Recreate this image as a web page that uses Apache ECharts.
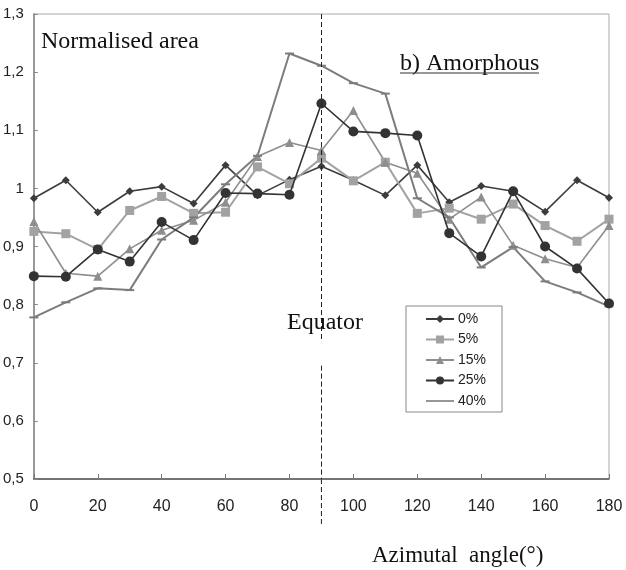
<!DOCTYPE html>
<html>
<head>
<meta charset="utf-8">
<script src="https://cdn.jsdelivr.net/npm/echarts@6/dist/echarts.min.js"></script>
<style>html,body{margin:0;padding:0;background:#fff}#c{width:626px;height:570px}</style>
</head>
<body>
<div id="c"></div>
<script>
const angles = [0,10,20,30,40,50,60,70,80,90,100,110,120,130,140,150,160,170,180];
const seriesNames = ['0%','5%','15%','25%','40%'];
const s0  = [0.983,1.014,0.959,0.995,1.003,0.974,1.040,0.988,1.015,1.038,1.014,0.988,1.040,0.976,1.004,0.995,0.960,1.014,0.984];
const s5  = [0.926,0.922,0.895,0.962,0.986,0.957,0.959,1.037,1.008,1.052,1.013,1.045,0.957,0.966,0.947,0.973,0.936,0.909,0.947];
const s15 = [0.943,0.854,0.849,0.896,0.928,0.945,0.976,1.055,1.079,1.065,1.134,1.045,1.026,0.947,0.985,0.902,0.879,0.864,0.936];
const s25 = [0.849,0.848,0.895,0.874,0.942,0.911,0.992,0.991,0.989,1.146,1.098,1.095,1.091,0.923,0.883,0.995,0.900,0.862,0.802];
const s40 = [0.778,0.804,0.828,0.825,0.912,0.950,1.007,1.056,1.232,1.211,1.181,1.163,0.983,0.950,0.864,0.899,0.840,0.821,0.797];
const equatorAngle = 90;
const xTicks = [0,20,40,60,80,100,120,140,160,180];
const yTicks = [0.5,0.6,0.7,0.8,0.9,1.0,1.1,1.2,1.3];

const pair = arr => angles.map((a,i)=>[a,arr[i]]);
const chart = echarts.init(document.getElementById('c'), null, {renderer:'canvas'});

const styles = [
  {color:'#3c3c3c', symbol:'diamond', size:8, width:1.6},
  {color:'#a2a2a2', symbol:'rect', size:9, width:2},
  {color:'#8e8e8e', symbol:'triangle', size:9, width:1.6},
  {color:'#333333', symbol:'circle', size:10, width:1.6},
  {color:'#7c7c7c', symbol:'rect', size:[9,2], width:2}
];
const datas = [s0,s5,s15,s25,s40];

const series = seriesNames.map((n,i)=>({
  name:n, type:'line', data:pair(datas[i]),
  symbol:styles[i].symbol, symbolSize:styles[i].size, showSymbol:true,
  lineStyle:{color:styles[i].color, width:styles[i].width},
  itemStyle:{color:styles[i].color},
  emphasis:{disabled:true}, animation:false, z:3+(i===3?1:0)
}));

series.push({
  type:'line', data:[], silent:true, animation:false,
  markLine:{
    silent:true, symbol:['none','none'], animation:false,
    label:{show:false},
    lineStyle:{color:'#222', type:[5,3], width:1},
    data:[
      [{coord:[equatorAngle,1.3]},{coord:[equatorAngle,0.74]}],
      [{coord:[equatorAngle,0.695]},{coord:[equatorAngle,0.5]}]
    ]
  }
});

const fmt = v => (Math.round(v*10)/10).toString().replace('.',',');

const legendData = seriesNames.map((n,i)=> i===4 ? {name:n, icon:'path://M0,4.2L28,4.2L28,5.8L0,5.8Z'} : {name:n});

chart.setOption({
  animation:false,
  backgroundColor:'#fff',
  grid:{left:32, right:17, top:14, bottom:91, show:true, borderColor:'#aaaaaa', borderWidth:1, backgroundColor:'transparent'},
  xAxis:{type:'value', min:0, max:180, interval:20,
    axisLine:{show:true, onZero:false, lineStyle:{color:'#555', width:1.5}},
    axisTick:{show:true, inside:true, length:5, lineStyle:{color:'#777'}},
    axisLabel:{fontFamily:'Liberation Sans, Arial', fontSize:16, color:'#222', margin:20, formatter:v=>String(v)},
    splitLine:{show:false}},
  yAxis:{type:'value', min:0.5, max:1.3, interval:0.1,
    axisLine:{show:true, lineStyle:{color:'#999', width:2}},
    axisTick:{show:true, inside:true, length:4, lineStyle:{color:'#888'}},
    axisLabel:{fontFamily:'Liberation Sans, Arial', fontSize:15, color:'#222', margin:10, formatter:fmt},
    splitLine:{show:false}},
  legend:{
    data:legendData, orient:'vertical', left:406, top:306,
    padding:[6,16,4,19], itemGap:6.5, itemWidth:28, itemHeight:10,
    borderColor:'#888', borderWidth:1, backgroundColor:'#fff',
    textStyle:{fontFamily:'Liberation Sans, Arial', fontSize:14, color:'#222', padding:[0,0,0,-1]},
    selectedMode:false
  },
  graphic:[
    {type:'text', left:41, top:30, style:{text:'Normalised area', font:'24px "Liberation Serif", serif', fill:'#111'}},
    {type:'text', left:400, top:52, style:{text:'b) Amorphous', font:'24px "Liberation Serif", serif', fill:'#111'}},
    {type:'line', shape:{x1:400, y1:73, x2:539, y2:73}, style:{stroke:'#333', lineWidth:1.2}},
    {type:'text', left:287, top:311, style:{text:'Equator', font:'24px "Liberation Serif", serif', fill:'#111'}, z:60},
    {type:'text', left:372, top:544, style:{text:'Azimutal  angle(°)', font:'23px "Liberation Serif", serif', fill:'#111'}}
  ],
  series:series
});

// extension of the equator line below the x axis, positioned through the axis scales
const pTop = chart.convertToPixel({gridIndex:0}, [equatorAngle, 0.5]);
const belowPx = 46;
chart.setOption({
  graphic:[
    {type:'text', left:41, top:30, style:{text:'Normalised area', font:'24px "Liberation Serif", serif', fill:'#111'}},
    {type:'text', left:400, top:52, style:{text:'b) Amorphous', font:'24px "Liberation Serif", serif', fill:'#111'}},
    {type:'line', shape:{x1:400, y1:73, x2:539, y2:73}, style:{stroke:'#333', lineWidth:1.2}},
    {type:'text', left:287, top:311, style:{text:'Equator', font:'24px "Liberation Serif", serif', fill:'#111'}, z:60},
    {type:'text', left:372, top:544, style:{text:'Azimutal  angle(°)', font:'23px "Liberation Serif", serif', fill:'#111'}},
    {type:'line', shape:{x1:pTop[0], y1:pTop[1], x2:pTop[0], y2:pTop[1]+belowPx}, style:{stroke:'#222', lineWidth:1, lineDash:[5,3]}}
  ]
}, {replaceMerge:['graphic']});
</script>
</body>
</html>
